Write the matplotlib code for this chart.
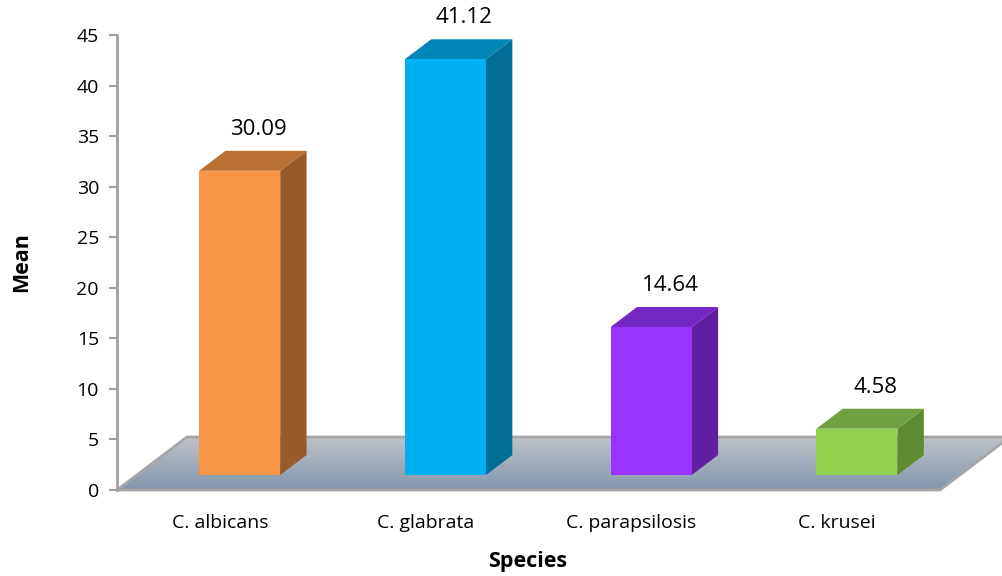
import numpy as np
import matplotlib
matplotlib.use("Agg")
import matplotlib.pyplot as plt
from matplotlib.patches import Polygon

plt.rcParams['font.family'] = ['Open Sans', 'DejaVu Sans']

species = ["C. albicans", "C. glabrata", "C. parapsilosis", "C. krusei"]
means = [30.09, 41.12, 14.64, 4.58]
front_colors = ["#F79646", "#00B0F0", "#9933FF", "#92D050"]
side_colors = ["#9A5B2A", "#006E96", "#601FA0", "#5E8A32"]
top_colors = ["#BA6F33", "#0086B6", "#7527C2", "#70A040"]
yticks = [0, 5, 10, 15, 20, 25, 30, 35, 40, 45]

# oblique projection of the floor depth, in data units
DX, DY = 0.34, 5.24
F_FRONT, F_BACK = 0.283, 0.66   # depth fraction of bar front / back faces
BAR_W = 0.394


def shift(x, y, f):
    return x + DX * f, y + DY * f


fig = plt.figure(figsize=(10.03, 5.76), dpi=100)
ax = fig.add_axes([117 / 1003, 86 / 576, 886 / 1003, 455 / 576])
n = len(species)

# floor with vertical gradient
floor = Polygon([(0, 0), (n, 0), (n + DX, DY), (DX, DY)], closed=True,
                facecolor="none", edgecolor="#A6A6A6", linewidth=2, zorder=2,
                clip_on=False)
grad = np.linspace(0, 1, 100).reshape(-1, 1)
c_top = np.array([0.74, 0.76, 0.78])
c_bot = np.array([0.52, 0.59, 0.68])
img = c_bot + (c_top - c_bot) * grad
im = ax.imshow(img[:, None, :].repeat(2, axis=1), extent=(0, n + DX, 0, DY),
               origin="lower", aspect="auto", zorder=1, interpolation="bilinear")
ax.add_patch(floor)
im.set_clip_path(floor)
ax.set_xlim(0, 886 / 205.75)
ax.set_ylim(0, 45)

for i, (val, fc, sc, tc) in enumerate(zip(means, front_colors, side_colors, top_colors)):
    cx = i + 0.5
    x0, y0 = shift(cx - BAR_W / 2, 0, F_FRONT)
    x1 = x0 + BAR_W
    y1 = y0 + val
    ddx = DX * (F_BACK - F_FRONT)
    ddy = DY * (F_BACK - F_FRONT)
    side = Polygon([(x1, y0), (x1 + ddx, y0 + ddy), (x1 + ddx, y1 + ddy), (x1, y1)],
                   facecolor=sc, edgecolor="none", zorder=3)
    top = Polygon([(x0, y1), (x1, y1), (x1 + ddx, y1 + ddy), (x0 + ddx, y1 + ddy)],
                  facecolor=tc, edgecolor="none", zorder=3)
    front = Polygon([(x0, y0), (x1, y0), (x1, y1), (x0, y1)],
                    facecolor=fc, edgecolor="none", zorder=4)
    for p in (side, top, front):
        ax.add_patch(p)
    ax.annotate(f"{val:.2f}", (x0 + ddx / 2 + BAR_W / 2, y1 + ddy),
                xytext=(4, 8), textcoords="offset points",
                ha="center", va="bottom", fontsize=16, zorder=5)

ax.set_yticks(yticks)
ax.set_yticklabels([str(t) for t in yticks], fontsize=14)
ax.tick_params(axis="y", length=6, width=1.5, color="#A0A0A0", pad=7)
ax.set_xticks([i + 0.5 for i in range(n)])
ax.set_xticklabels(species, fontsize=14)
ax.tick_params(axis="x", length=0, pad=17)

for s in ["top", "right", "bottom"]:
    ax.spines[s].set_visible(False)
ax.spines["left"].set_color("#A0A0A0")
ax.spines["left"].set_linewidth(2)

ax.set_ylabel("Mean", fontsize=15.5, fontweight="bold", va="center")
ax.set_xlabel("Species", fontsize=15.5, fontweight="bold", va="center")
ax.xaxis.set_label_coords((528 - 117) / 886, -(561 - 490) / 455)
ax.yaxis.set_label_coords(-(117 - 22) / 886, (490 - 262) / 455)

fig.savefig("out.png", dpi=100)
